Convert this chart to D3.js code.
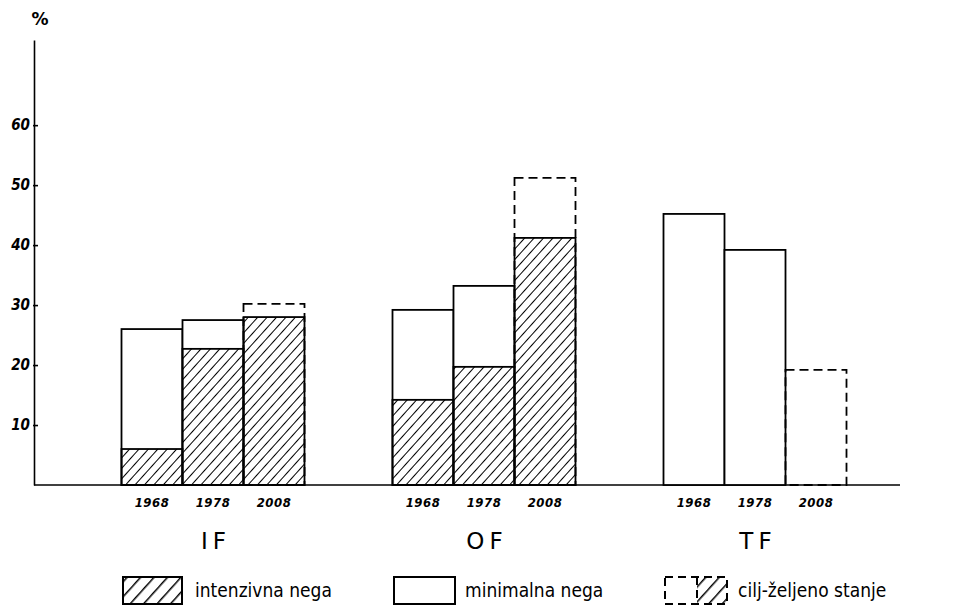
<!DOCTYPE html>
<html>
<head>
<meta charset="utf-8">
<script src="https://cdn.jsdelivr.net/npm/d3@7/dist/d3.min.js"></script>
<style>
  html, body { margin: 0; padding: 0; background: #fff; }
  svg { display: block; }
</style>
</head>
<body>
<svg id="chart" width="958" height="611"></svg>
<script>
// ---- data ----
const groups = ["IF", "OF", "TF"];
const years = ["1968", "1978", "2008"];
const yTicks = [10, 20, 30, 40, 50, 60];
// intenzivna nega (hatched) per group, per year
const intenzivnaIF = [6, 22.7, 28];
const intenzivnaOF = [14.2, 19.7, 41.2];
const intenzivnaTF = [0, 0, 0];
// top of bar (intenzivna + minimalna; 2008 = cilj / željeno stanje)
const ukupnoIF = [26, 27.5, 30.2];
const ukupnoOF = [29.2, 33.2, 51.2];
const ukupnoTF = [45.2, 39.2, 19.2];
const targetYear = "2008";
const legendLabels = ["intenzivna nega", "minimalna nega", "cilj-željeno stanje"];

const intenzivna = { IF: intenzivnaIF, OF: intenzivnaOF, TF: intenzivnaTF };
const ukupno = { IF: ukupnoIF, OF: ukupnoOF, TF: ukupnoTF };

const svg = d3.select("#chart");

// patterns
const defs = svg.append("defs");
defs.append("pattern")
  .attr("id", "hatch").attr("patternUnits", "userSpaceOnUse")
  .attr("width", 7).attr("height", 7)
  .attr("patternTransform", "rotate(42)")
  .append("line").attr("x1", 0).attr("y1", 0).attr("x2", 0).attr("y2", 7)
  .attr("stroke", "#000").attr("stroke-width", 2);
defs.append("pattern")
  .attr("id", "hatch2").attr("patternUnits", "userSpaceOnUse")
  .attr("width", 10).attr("height", 10)
  .attr("patternTransform", "rotate(42)")
  .append("line").attr("x1", 0).attr("y1", 0).attr("x2", 0).attr("y2", 10)
  .attr("stroke", "#000").attr("stroke-width", 3);

// scales
const y = d3.scaleLinear().domain([0, 74.2]).range([485, 40]);
const xg = d3.scalePoint().domain(groups).range([213, 755]);
const xy = d3.scaleBand().domain(years).range([-91.5, 91.5]).padding(0);
const bw = xy.bandwidth();

// y axis
const yAxis = d3.axisLeft(y).tickValues(yTicks).tickSizeInner(-4).tickSizeOuter(0).tickPadding(4)
  .tickFormat(d3.format("d"));
const ga = svg.append("g").attr("transform", "translate(34,0)").call(yAxis);
ga.select(".domain").attr("stroke", "#000").attr("stroke-width", 1.6);
ga.selectAll(".tick line").attr("stroke", "#000").attr("stroke-width", 1.6).attr("x1", -1);
ga.selectAll(".tick text")
  .attr("font-family", "'DejaVu Sans Condensed', 'DejaVu Sans', sans-serif")
  .attr("font-weight", "bold").attr("font-style", "italic")
  .attr("font-size", 15).attr("fill", "#000");

svg.append("text").attr("x", 40).attr("y", 25).attr("text-anchor", "middle")
  .attr("font-family", "'DejaVu Sans', sans-serif").attr("font-size", 17).attr("font-weight", "bold")
  .text("%");

// baseline
svg.append("line").attr("x1", 34).attr("x2", 900).attr("y1", y(0)).attr("y2", y(0))
  .attr("stroke", "#000").attr("stroke-width", 1.6);

// bars
groups.forEach(g => {
  const gg = svg.append("g").attr("transform", `translate(${xg(g)},0)`);
  // outlines of totals
  years.forEach((yr, i) => {
    const tgt = yr === targetYear;
    gg.append("rect")
      .attr("x", xy(yr)).attr("width", bw)
      .attr("y", y(ukupno[g][i])).attr("height", y(0) - y(ukupno[g][i]))
      .attr("fill", tgt ? "none" : "#fff")
      .attr("stroke", "#000").attr("stroke-width", 1.8)
      .attr("stroke-dasharray", tgt ? "9,5" : null);
  });
  // hatched intensive parts
  years.forEach((yr, i) => {
    const v = intenzivna[g][i];
    if (v <= 0) return;
    gg.append("rect")
      .attr("x", xy(yr)).attr("width", bw)
      .attr("y", y(v)).attr("height", y(0) - y(v))
      .attr("fill", "url(#hatch)")
      .attr("stroke", "#000").attr("stroke-width", 1.8);
  });
  // year labels
  gg.selectAll("text.yr").data(years).enter().append("text")
    .attr("class", "yr")
    .attr("x", d => xy(d) + bw / 2).attr("y", 507)
    .attr("text-anchor", "middle")
    .attr("font-family", "'DejaVu Sans Condensed', 'DejaVu Sans', sans-serif")
    .attr("font-weight", "bold").attr("font-style", "italic").attr("font-size", 13)
    .attr("letter-spacing", 0.5)
    .text(d => d);
  // group label
  gg.append("text").attr("x", 3).attr("y", 549).attr("text-anchor", "middle")
    .attr("font-family", "'DejaVu Sans', sans-serif").attr("font-size", 23)
    .attr("letter-spacing", 5)
    .text(g);
});

// legend
const lg = svg.append("g");
const lf = "'DejaVu Sans Condensed', 'DejaVu Sans', sans-serif";
// 1: hatched
lg.append("rect").attr("x", 123).attr("y", 577).attr("width", 59).attr("height", 27)
  .attr("fill", "url(#hatch2)").attr("stroke", "#000").attr("stroke-width", 2);
lg.append("text").attr("x", 195).attr("y", 597).attr("font-family", lf).attr("font-size", 19)
  .text(legendLabels[0]);
// 2: empty
lg.append("rect").attr("x", 394).attr("y", 577).attr("width", 61).attr("height", 27)
  .attr("fill", "#fff").attr("stroke", "#000").attr("stroke-width", 2);
lg.append("text").attr("x", 465).attr("y", 597).attr("font-family", lf).attr("font-size", 19)
  .text(legendLabels[1]);
// 3: dashed + hatched
lg.append("rect").attr("x", 697).attr("y", 577).attr("width", 30).attr("height", 27)
  .attr("fill", "url(#hatch2)").attr("stroke", "none");
lg.append("rect").attr("x", 665).attr("y", 577).attr("width", 62).attr("height", 27)
  .attr("fill", "none").attr("stroke", "#000").attr("stroke-width", 2)
  .attr("stroke-dasharray", "8,5");
lg.append("line").attr("x1", 697).attr("x2", 697).attr("y1", 577).attr("y2", 604)
  .attr("stroke", "#000").attr("stroke-width", 2).attr("stroke-dasharray", "8,5");
lg.append("text").attr("x", 738).attr("y", 597).attr("font-family", lf).attr("font-size", 19)
  .text(legendLabels[2]);
</script>
</body>
</html>
